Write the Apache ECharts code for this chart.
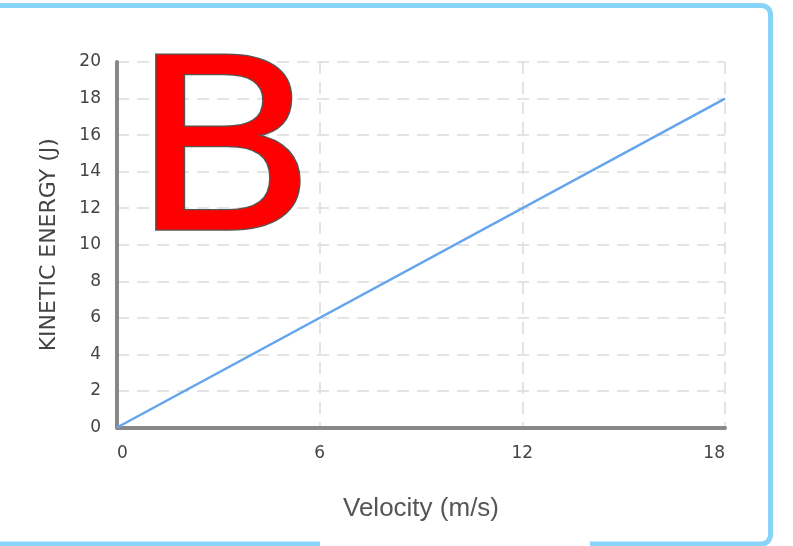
<!DOCTYPE html>
<html>
<head>
<meta charset="utf-8">
<script src="https://cdn.jsdelivr.net/npm/echarts@6/dist/echarts.min.js"></script>
<style>
    html, body {margin: 0; padding: 0; background: #fff;}
    #main {width: 793px; height: 546px;}
</style>
</head>
<body>
<div id="main"></div>
<script>
// velocity (m/s) vs kinetic energy (J)
var velocity = [0, 18];
var energy = [0, 18];
var xTicks = [0, 6, 12, 18];
var yTicks = [0, 2, 4, 6, 8, 10, 12, 14, 16, 18, 20];

var chart = echarts.init(document.getElementById('main'));

var option = {
    backgroundColor: '#fff',
    animation: false,
    grid: {
        left: 117,
        right: 68,
        top: 62,
        bottom: 118.5
    },
    xAxis: {
        type: 'value',
        min: xTicks[0],
        max: xTicks[xTicks.length - 1],
        interval: 6,
        name: 'Velocity (m/s)',
        nameLocation: 'middle',
        nameGap: 68,
        nameTextStyle: {
            fontFamily: 'Liberation Sans',
            fontSize: 26,
            color: '#555'
        },
        axisLine: {lineStyle: {color: '#888', width: 4}},
        axisTick: {show: false},
        axisLabel: {
            margin: 18,
            fontFamily: 'DejaVu Sans',
            fontSize: 17,
            color: '#444',
            alignMinLabel: 'left',
            alignMaxLabel: 'right'
        },
        splitLine: {
            show: true,
            lineStyle: {color: '#dcdcdc', width: 1.5, type: [12, 8]}
        }
    },
    yAxis: {
        type: 'value',
        min: yTicks[0],
        max: yTicks[yTicks.length - 1],
        interval: 2,
        name: 'KINETIC ENERGY (J)',
        nameLocation: 'middle',
        nameGap: 57,
        nameTextStyle: {
            fontFamily: 'DejaVu Sans',
            fontSize: 22,
            color: '#444'
        },
        axisLine: {show: true, lineStyle: {color: '#888', width: 4}},
        axisTick: {show: false},
        axisLabel: {
            margin: 16,
            fontFamily: 'DejaVu Sans',
            fontSize: 17,
            color: '#444'
        },
        splitLine: {
            show: true,
            lineStyle: {color: '#dcdcdc', width: 1.5, type: [12, 8]}
        }
    },
    series: [{
        type: 'line',
        data: velocity.map(function (v, i) {
            return [v, energy[i]];
        }),
        symbol: 'none',
        lineStyle: {color: '#64a5ee', width: 2.5}
    }],
    graphic: [
        {
            // light blue frame round the picture
            type: 'rect',
            z: 100,
            silent: true,
            shape: {x: -10, y: 5.5, width: 780.5, height: 538.5, r: 9},
            style: {fill: 'none', stroke: '#87d4f8', lineWidth: 5}
        },
        {
            type: 'rect',
            z: 101,
            silent: true,
            shape: {x: 320, y: 538, width: 270, height: 10},
            style: {fill: '#fff'}
        },
        {
            // big letter B
            type: 'text',
            z: 50,
            left: 128,
            top: 46,
            scaleX: 1.15,
            style: {
                text: 'B',
                font: '240px "DejaVu Sans"',
                fill: '#ff0000',
                stroke: '#555',
                lineWidth: 2.5
            }
        }
    ]
};

chart.setOption(option);
</script>
</body>
</html>
